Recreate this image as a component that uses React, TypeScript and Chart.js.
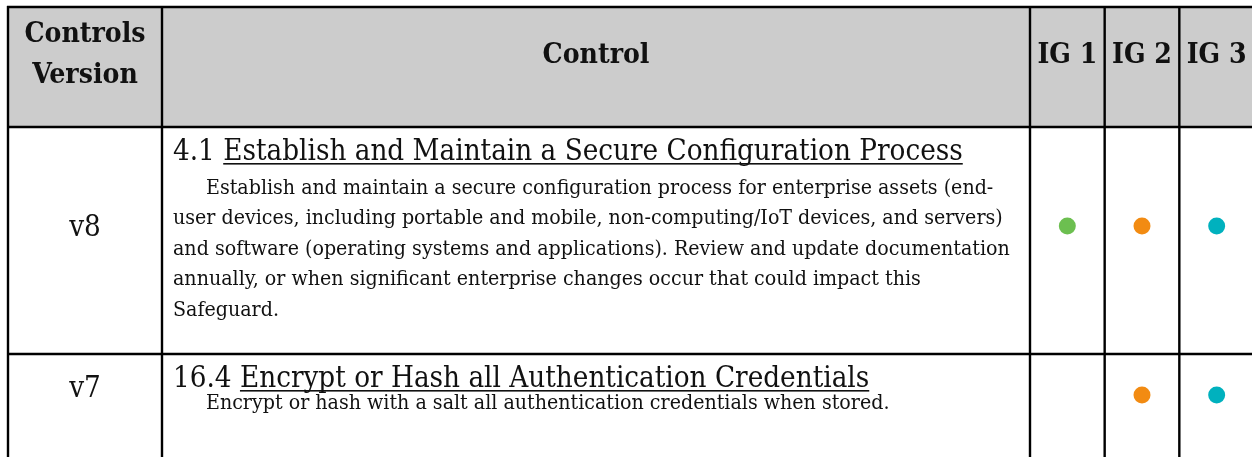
import React, { useEffect, useRef } from 'react';
import { Chart, registerables } from 'chart.js';

Chart.register(...registerables);

// ---------- data ----------
const headerVersion = ['Controls', 'Version'];
const headerControl = 'Control';
const igLabels = ['IG 1', 'IG 2', 'IG 3'];
const versions = ['v8', 'v7'];
const controlIds = ['4.1', '16.4'];
const controlTitles = [
  'Establish and Maintain a Secure Configuration Process',
  'Encrypt or Hash all Authentication Credentials',
];
const descriptionV8 = [
  'Establish and maintain a secure configuration process for enterprise assets (end-',
  'user devices, including portable and mobile, non-computing/IoT devices, and servers)',
  'and software (operating systems and applications). Review and update documentation',
  'annually, or when significant enterprise changes occur that could impact this',
  'Safeguard.',
];
const descriptionV7 = ['Encrypt or hash with a salt all authentication credentials when stored.'];
const descriptions = [descriptionV8, descriptionV7];
// 1 = safeguard applies to that implementation group
const ig1Marks = [1, 0];
const ig2Marks = [1, 1];
const ig3Marks = [1, 1];
const igMarks = [ig1Marks, ig2Marks, ig3Marks];
const igColors = ['#6cbf50', '#f28b12', '#00b1be'];

// ---------- layout / style ----------
const W = 1252;
const H = 457;
const CW = 1258; // canvas is a little wider; the table's right border sits just off-screen
const FAMILY = '"DejaVu Serif Condensed", "Liberation Serif", serif';
const layout = {
  tableLeft: 8,
  tableTop: 7,
  controlLeft: 162,
  rowEdges: [7, 127, 354],
  headerFill: '#cccccc',
  lineWidth: 2.4,
  headerVersionBaselines: [42, 83],
  headerBaseline: 63,
  versionBaselines: [236, 397],
  titleBaselines: [160, 387],
  bodyFirstBaselines: [194, 409],
  bodyLineHeight: 30.4,
  textLeft: 173,
  indent: 33,
  titleFitText: '4.1 Establish and Maintain a Secure Configuration Process',
  titleFitWidth: 790,
  bodyFitText: 'user devices, including portable and mobile, non-computing/IoT devices, and servers)',
  bodyFitWidth: 830,
  headerFitText: 'Control',
  headerFitWidth: 107,
  dotRadius: 8.5,
  dotTop: 226,
  dotBottom: 395,
  igLeft: 1030,
  igRight: 1254,
};

function fitSize(ctx: CanvasRenderingContext2D, text: string, weight: string, target: number) {
  ctx.font = `${weight} 100px ${FAMILY}`;
  const w = ctx.measureText(text).width;
  return (100 * target) / w;
}

const tablePlugin = {
  id: 'tableGrid',
  beforeDatasetsDraw(chart: any) {
    const ctx: CanvasRenderingContext2D = chart.ctx;
    const xs = chart.scales.x;
    const step = xs.getPixelForValue(1) - xs.getPixelForValue(0);
    const igEdges = igLabels.map((_, i) => xs.getPixelForValue(i) - step / 2);
    igEdges.push(xs.getPixelForValue(igLabels.length - 1) + step / 2);
    const vEdges = [layout.tableLeft, layout.controlLeft, ...igEdges];
    const right = igEdges[igEdges.length - 1];

    const titleSize = fitSize(ctx, layout.titleFitText, 'normal', layout.titleFitWidth);
    const bodySize = fitSize(ctx, layout.bodyFitText, 'normal', layout.bodyFitWidth);
    const headSize = fitSize(ctx, layout.headerFitText, 'bold', layout.headerFitWidth);

    ctx.save();
    ctx.fillStyle = '#ffffff';
    ctx.fillRect(0, 0, CW, H);
    ctx.fillStyle = layout.headerFill;
    ctx.fillRect(layout.tableLeft, layout.rowEdges[0], right - layout.tableLeft, layout.rowEdges[1] - layout.rowEdges[0]);

    // header text
    ctx.fillStyle = '#111111';
    ctx.textBaseline = 'alphabetic';
    ctx.textAlign = 'center';
    ctx.font = `bold ${headSize}px ${FAMILY}`;
    const c0 = (vEdges[0] + vEdges[1]) / 2;
    headerVersion.forEach((t, i) => ctx.fillText(t, c0, layout.headerVersionBaselines[i]));
    ctx.fillText(headerControl, (vEdges[1] + vEdges[2]) / 2, layout.headerBaseline);
    igLabels.forEach((t, i) => ctx.fillText(t, xs.getPixelForValue(i), layout.headerBaseline));

    // rows
    versions.forEach((v, r) => {
      ctx.textAlign = 'center';
      ctx.font = `normal ${titleSize}px ${FAMILY}`;
      ctx.fillText(v, c0, layout.versionBaselines[r]);

      ctx.textAlign = 'left';
      const prefix = controlIds[r] + ' ';
      const pw = ctx.measureText(prefix).width;
      const tb = layout.titleBaselines[r];
      ctx.fillText(prefix, layout.textLeft, tb);
      const title = controlTitles[r];
      ctx.fillText(title, layout.textLeft + pw, tb);
      const tw = ctx.measureText(title).width;
      ctx.fillRect(layout.textLeft + pw, tb + 3, tw, 1.6);

      ctx.font = `normal ${bodySize}px ${FAMILY}`;
      descriptions[r].forEach((line, k) => {
        const x = layout.textLeft + (k === 0 ? layout.indent : 0);
        ctx.fillText(line, x, layout.bodyFirstBaselines[r] + k * layout.bodyLineHeight);
      });
    });

    // grid lines
    ctx.strokeStyle = '#000000';
    ctx.lineWidth = layout.lineWidth;
    ctx.beginPath();
    layout.rowEdges.forEach((y) => {
      ctx.moveTo(layout.tableLeft - 1, y);
      ctx.lineTo(right, y);
    });
    vEdges.forEach((x) => {
      ctx.moveTo(x, layout.tableTop - 1);
      ctx.lineTo(x, H);
    });
    ctx.stroke();
    ctx.restore();
  },
};

export default function App() {
  const ref = useRef<HTMLCanvasElement | null>(null);
  useEffect(() => {
    if (!ref.current) return;
    const datasets = igLabels.map((ig, i) => ({
      label: ig,
      data: versions
        .map((v, r) => (igMarks[i][r] ? { x: ig, y: v } : null))
        .filter((p) => p !== null) as any[],
      backgroundColor: igColors[i],
      borderWidth: 0,
      pointRadius: layout.dotRadius,
      pointHoverRadius: layout.dotRadius,
      clip: false as any,
    }));
    const chart = new Chart(ref.current, {
      type: 'scatter',
      data: { datasets },
      options: {
        animation: false,
        responsive: false,
        devicePixelRatio: 1,
        events: [],
        layout: {
          autoPadding: false,
          padding: {
            left: layout.igLeft,
            right: CW - layout.igRight,
            top: layout.dotTop,
            bottom: H - layout.dotBottom,
          },
        },
        plugins: { legend: { display: false }, tooltip: { enabled: false } },
        scales: {
          x: { type: 'category', labels: igLabels, offset: true, display: false },
          y: { type: 'category', labels: versions, offset: false, display: false },
        },
      },
      plugins: [tablePlugin],
    });
    return () => chart.destroy();
  }, []);
  return (
    <div style={{ position: 'absolute', left: 0, top: 0, width: W, height: H, overflow: 'hidden', background: '#fff' }}>
      <canvas ref={ref} width={CW} height={H} style={{ width: CW, height: H, display: 'block' }} />
    </div>
  );
}
